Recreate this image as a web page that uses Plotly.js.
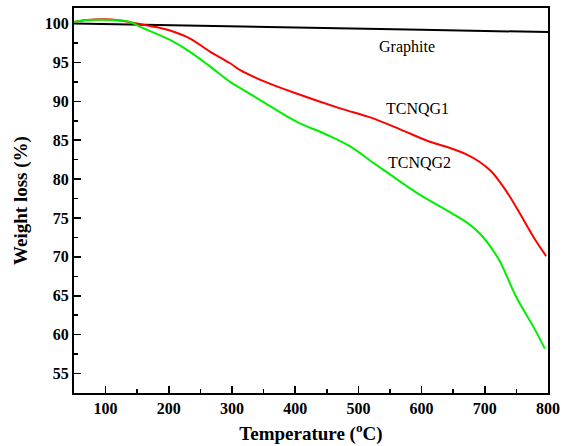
<!DOCTYPE html>
<html>
<head>
<meta charset="utf-8">
<script src="https://cdn.plot.ly/plotly-3.0.1.min.js"></script>
<style>html,body{margin:0;padding:0;background:#fff;}#chart{width:563px;height:446px;}</style>
</head>
<body>
<div id="chart"></div>
<script>
// Temperature (°C) and weight (%)
const graphiteT = [50, 200, 400, 600, 800];
const graphiteW = [100.0, 99.8, 99.5, 99.2, 98.9];

const tcnqg1T = [50, 70, 96, 123, 150, 180, 202, 233, 265, 297, 313, 344, 402, 471, 520, 566, 613, 645, 670, 692, 710, 724, 740, 756, 779, 797];
const tcnqg1W = [100.2, 100.45, 100.55, 100.4, 100.0, 99.55, 99.1, 98.1, 96.4, 94.9, 94.0, 92.8, 91.0, 89.1, 87.9, 86.4, 84.8, 84.0, 83.2, 82.2, 81.0, 79.6, 77.7, 75.5, 72.3, 70.1];

const tcnqg2T = [50, 70, 91, 123, 139, 154, 202, 233, 265, 297, 313, 344, 402, 450, 487, 520, 550, 597, 648, 672, 692, 710, 724, 750, 777, 795];
const tcnqg2W = [100.2, 100.45, 100.5, 100.4, 100.2, 99.6, 97.9, 96.4, 94.5, 92.5, 91.7, 90.2, 87.4, 85.7, 84.2, 82.3, 80.6, 78.0, 75.6, 74.4, 73.0, 71.2, 69.4, 64.8, 61.0, 58.2];

const labelText = ["Graphite", "TCNQG1", "TCNQG2"];
const labelT = [577, 593, 597];
const labelW = [97.0, 89.1, 82.1];

const xTicks = [100, 200, 300, 400, 500, 600, 700, 800];
const yTicks = [55, 60, 65, 70, 75, 80, 85, 90, 95, 100];

const serif = "Liberation Serif";

const traces = [
  {x: graphiteT, y: graphiteW, mode: "lines", line: {color: "#000000", width: 2}, hoverinfo: "skip"},
  {x: tcnqg1T, y: tcnqg1W, mode: "lines", line: {color: "#ff0000", width: 2, shape: "spline", smoothing: 1}, hoverinfo: "skip"},
  {x: tcnqg2T, y: tcnqg2W, mode: "lines", line: {color: "#00ee00", width: 2, shape: "spline", smoothing: 1}, hoverinfo: "skip"}
];

const annotations = labelText.map((t, i) => ({
  x: labelT[i], y: labelW[i], xref: "x", yref: "y", text: t, showarrow: false,
  font: {family: serif, size: 16, color: "#000"}
}));

const axisCommon = {
  showgrid: false, zeroline: false, showline: true, linecolor: "#000", linewidth: 2,
  mirror: true, ticks: "inside", ticklen: 7, tickwidth: 1.5, tickcolor: "#000",
  tickfont: {family: serif, size: 16, color: "#000", weight: "bold"},
  minor: {ticks: "inside", ticklen: 4, tickwidth: 1.5, tickcolor: "#000"}
};

const layout = {
  width: 563, height: 446,
  margin: {l: 74, r: 15, t: 8, b: 53},
  paper_bgcolor: "#fff", plot_bgcolor: "#fff",
  showlegend: false,
  font: {family: serif},
  xaxis: Object.assign({}, axisCommon, {
    range: [50, 800], tickmode: "array", tickvals: xTicks, ticktext: xTicks.map(String),
    minor: Object.assign({}, axisCommon.minor, {dtick: 50, tick0: 50}),
    title: {text: "Temperature (<sup>o</sup>C)", font: {family: serif, size: 19, color: "#000", weight: "bold"}, standoff: 10}
  }),
  yaxis: Object.assign({}, axisCommon, {
    range: [52.5, 102], tickmode: "array", tickvals: yTicks, ticktext: yTicks.map(String),
    minor: Object.assign({}, axisCommon.minor, {dtick: 2.5, tick0: 52.5}),
    title: {text: "Weight loss (%)", font: {family: serif, size: 19, color: "#000", weight: "bold"}, standoff: 12}
  }),
  annotations: annotations
};

Plotly.newPlot("chart", traces, layout, {staticPlot: true, displayModeBar: false});
</script>
</body>
</html>
